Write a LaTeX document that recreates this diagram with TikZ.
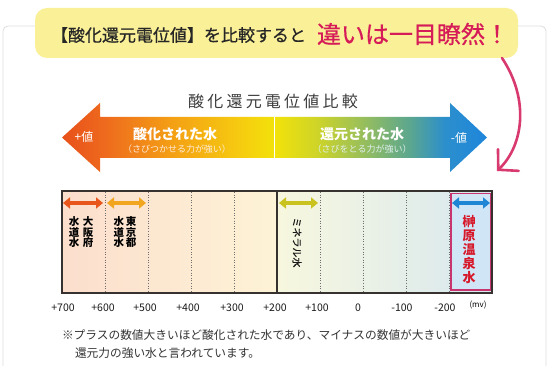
\documentclass[tikz,border=0pt]{standalone}
\usepackage{fontspec}
\setmainfont{Noto Sans CJK JP}
\usetikzlibrary{arrows.meta}
\definecolor{calloutY}{RGB}{250,240,152}
\definecolor{crimson}{RGB}{214,28,88}
\definecolor{pinkarrow}{RGB}{216,58,112}
\definecolor{framegray}{RGB}{222,222,226}
\definecolor{titlegray}{RGB}{60,60,60}
\definecolor{aL}{RGB}{232,80,26}
\definecolor{aL2}{RGB}{238,106,30}
\definecolor{aO}{RGB}{244,160,20}
\definecolor{aY1}{RGB}{246,204,16}
\definecolor{aY}{RGB}{242,226,10}
\definecolor{aG}{RGB}{206,212,40}
\definecolor{aG2}{RGB}{156,192,88}
\definecolor{aT}{RGB}{90,166,144}
\definecolor{aB1}{RGB}{44,143,204}
\definecolor{aB}{RGB}{30,134,220}
\definecolor{peach}{RGB}{252,222,205}
\definecolor{ltyellow}{RGB}{253,243,214}
\definecolor{ltyg}{RGB}{247,247,222}
\definecolor{ltblue}{RGB}{216,232,240}
\definecolor{sakafill}{RGB}{208,230,247}
\definecolor{sakaborder}{RGB}{200,52,110}
\definecolor{sakared}{RGB}{214,24,42}
\definecolor{boxline}{RGB}{55,50,48}
\definecolor{dotgray}{RGB}{110,110,110}
\definecolor{osakaC}{RGB}{232,86,28}
\definecolor{tokyoC}{RGB}{242,165,30}
\definecolor{mineralC}{RGB}{201,194,31}
\definecolor{sakaC}{RGB}{31,134,214}
\pgfdeclarehorizontalshading{bigarrowshade}{100bp}{color(0bp)=(aL); color(25bp)=(aL); color(30bp)=(aL2); color(38bp)=(aO); color(46bp)=(aY1); color(50bp)=(aY); color(55bp)=(aG); color(60bp)=(aG2); color(66bp)=(aT); color(70bp)=(aB1); color(75bp)=(aB); color(100bp)=(aB)}
\tikzset{
  lbl/.style={inner sep=0pt, outer sep=0pt},
  vtxt/.style={lbl, align=center, font=\fontsize{10.5}{10.5}\selectfont\bfseries, text=black},
  axislbl/.style={lbl, font=\fontsize{10.5}{10.5}\selectfont, text=black!90},
  dotline/.style={dotgray, line width=0.9pt, dash pattern=on 1pt off 1.6pt},
  fatarrow/.style={line width=4.5pt, {Triangle[length=7pt,width=11pt]}-{Triangle[length=7pt,width=11pt]}, shorten <=0pt, shorten >=0pt},
}
\begin{document}
\begin{tikzpicture}[x=1pt,y=-1pt]
\useasboundingbox (0,0) rectangle (550,366);
\fill[white] (0,0) rectangle (550,366);
% outer frame
\draw[framegray, line width=0.8pt, rounded corners=5pt] (3,26) rectangle (546,420);
% callout
\node[lbl, fill=calloutY, rounded corners=12pt, minimum width=483pt, minimum height=50pt] (callout) at (276.5,33) {};
\node[lbl, anchor=west, font=\fontsize{17}{17}\selectfont\addfontfeature{FakeBold=0.6}, text=black!85] (c1) at (51,35) {【酸化還元電位値】を比較すると};
\node[lbl, anchor=west, font=\fontsize{24}{24}\selectfont\addfontfeature{FakeBold=0.6}, text=crimson] (c2) at (317,34) {違いは一目瞭然！};
% pink curved arrow
\coordinate (pa1) at (502,58);
\coordinate (pa2) at (497,171);
\draw[pinkarrow, line width=2.6pt, line cap=round, -{Straight Barb[length=14pt,width=30pt,line cap=round]}] (pa1) .. controls (530,100) and (523,146) .. (pa2);
% title
\node[lbl, font=\fontsize{16}{16}\selectfont\addfontfeature{LetterSpace=20}, text=titlegray] (title) at (273,101) {酸化還元電位値比較};
% big double arrow
\shade[shading=bigarrowshade] (62,137.5) -- (100,103) -- (100,117) -- (450,117) -- (450,103) -- (487,137.5) -- (450,172) -- (450,158) -- (100,158) -- (100,172) -- cycle;
\draw[white, line width=1pt] (274,117) -- (274,158);
\node[lbl, font=\fontsize{12}{12}\selectfont, text=white] (plusv) at (84,137) {+値};
\node[lbl, font=\fontsize{12}{12}\selectfont, text=white] (minusv) at (459,138) {-値};
\node[lbl, font=\fontsize{14}{14}\selectfont\bfseries, text=white] (ox) at (175,134) {酸化された水};
\node[lbl, font=\fontsize{9}{9}\selectfont, text=white!85!orange] (oxs) at (177,149.5) {（さびつかせる力が強い）};
\node[lbl, font=\fontsize{14}{14}\selectfont\bfseries, text=white] (red) at (362,134) {還元された水};
\node[lbl, font=\fontsize{9}{9}\selectfont, text=white!88!teal] (reds) at (362,149.5) {（さびをとる力が強い）};
% chart backgrounds
\shade[left color=peach, right color=ltyellow] (62,191) rectangle (277,293);
\shade[left color=ltyg, right color=ltblue] (277,191) rectangle (492,293);
\fill[sakafill] (451,193) rectangle (491,290);
% dotted lines
\foreach \x in {105,148,191,234,320,363,406,449} {
  \draw[dotline] (\x,192) -- (\x,292);
}
\draw[boxline, line width=1.2pt] (277,191) -- (277,293);
\draw[sakaborder, line width=1.8pt] (451,193.5) rectangle (490.5,290);
\draw[boxline, line width=1.4pt] (62,191) rectangle (492,293);
% fat arrows
\coordinate (o1) at (63,203); \coordinate (o2) at (103,203);
\draw[fatarrow, osakaC] (o1) -- (o2);
\coordinate (t1) at (107,203); \coordinate (t2) at (146,203);
\draw[fatarrow, tokyoC] (t1) -- (t2);
\coordinate (m1) at (279,203); \coordinate (m2) at (318,203);
\draw[fatarrow, mineralC] (m1) -- (m2);
\coordinate (s1) at (452,203); \coordinate (s2) at (490,203);
\draw[fatarrow, sakaC] (s1) -- (s2);
% vertical labels
\node[vtxt] (osakaA) at (88,232.5) {大\\阪\\府};
\node[vtxt] (osakaB) at (74,232.5) {水\\道\\水};
\node[vtxt] (tokyoA) at (131,232.5) {東\\京\\都};
\node[vtxt] (tokyoB) at (119,232.5) {水\\道\\水};
\node[lbl, rotate=-90, font=\fontsize{10}{10}\selectfont\addfontfeature{FakeBold=0.8}, text=black!90] (mineral) at (297,242.5) {ミネラル水};
\node[vtxt, font=\fontsize{13}{14}\selectfont\bfseries, text=sakared] (saka) at (469,250) {榊\\原\\温\\泉\\水};
% axis labels
\foreach \x/\t [count=\i] in {63/+700,103/+600,145/+500,188/+400,232/+300,275/+200,317/+100,358/0,402/-100,445/-200} {
  \node[axislbl] (ax\i) at (\x,308) {\t};
}
\node[lbl, font=\fontsize{8}{8}\selectfont] (mv) at (478,305) {(mv)};
% footnote
\node[lbl, anchor=west, font=\fontsize{11.7}{11.7}\selectfont, text=black!80] (fn1) at (62,335) {※プラスの数値大きいほど酸化された水であり、マイナスの数値が大きいほど};
\node[lbl, anchor=west, font=\fontsize{11.7}{11.7}\selectfont, text=black!80] (fn2) at (75,353) {還元力の強い水と言われています。};
\end{tikzpicture}
\end{document}
